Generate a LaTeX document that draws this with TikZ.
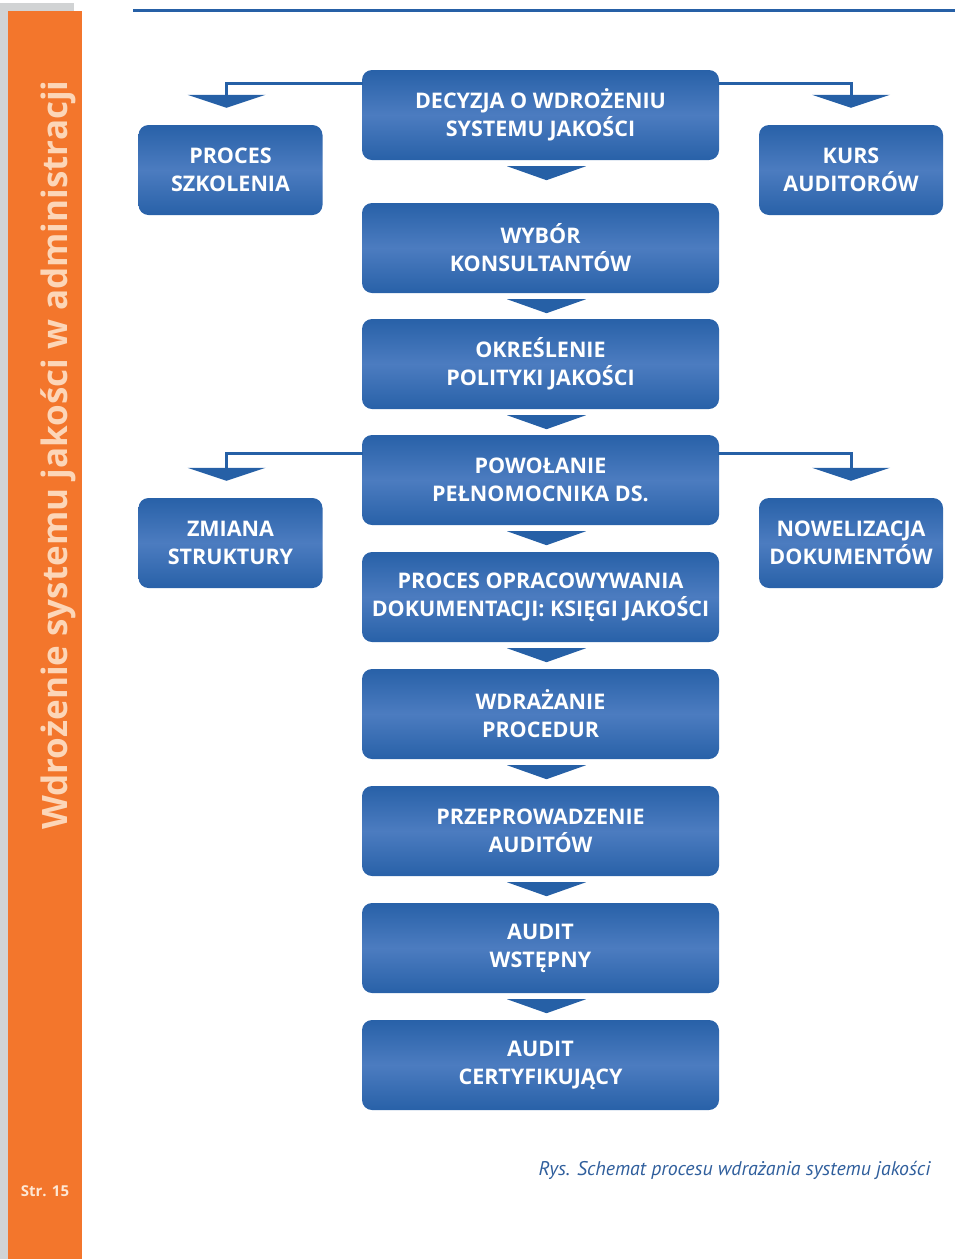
\documentclass[tikz,border=0pt]{standalone}
\usepackage{fontspec}
\setmainfont{PT Sans}
\newfontfamily\boxfont{Open Sans}
\usetikzlibrary{arrows.meta, positioning, calc}
\definecolor{BoxBlue}{RGB}{40, 97, 168}
\definecolor{BoxLight}{RGB}{76, 124, 192}
\definecolor{LineBlue}{RGB}{38, 96, 166}
\definecolor{SideOrange}{RGB}{243, 118, 44}
\definecolor{SideGray}{RGB}{209, 211, 212}
\definecolor{Peach}{RGB}{252, 214, 184}
\definecolor{CaptionBlue}{RGB}{47, 94, 156}

\begin{document}
\begin{tikzpicture}[x=1pt, y=-1pt,
    stepbox/.style={rounded corners=10pt, top color=BoxBlue, bottom color=BoxBlue,
        middle color=BoxLight, text=white, align=center, inner sep=0pt,
        minimum width=357pt, minimum height=90pt,
        font=\boxfont\bfseries\fontsize{21.5}{28}\selectfont},
    sidebox/.style={stepbox, minimum width=184pt},
    link/.style={LineBlue, line width=3pt},
    tri/.style={fill=LineBlue}]
        \useasboundingbox (0,0) rectangle (960,1259);
        % Sidebar
        \fill [SideGray] (0,3) rectangle (74,1259);
        \fill [SideOrange] (8,11) rectangle (82,1259);
        \node [rotate=90, anchor=base, text=Peach, font=\boxfont\bfseries\fontsize{35}{40}\selectfont]
            (title) at (67,455) {Wdrożenie systemu jakości w administracji};
        \node [text=Peach!60!white, font=\boxfont\bfseries\fontsize{15}{18}\selectfont]
            (page) at (45,1191) {Str. 15};
        \draw [LineBlue, line width=3pt] (133,10) -- (955,10);

        % Main steps
        \node [stepbox] (b1) at (540.5,115) {DECYZJA O WDROŻENIU\\SYSTEMU JAKOŚCI};
        \node [stepbox] (b2) at (540.5,248) {WYBÓR\\KONSULTANTÓW};
        \node [stepbox] (b3) at (540.5,364) {OKREŚLENIE\\POLITYKI JAKOŚCI};
        \node [stepbox] (b4) at (540.5,480) {POWOŁANIE\\PEŁNOMOCNIKA DS.};
        \node [stepbox] (b5) at (540.5,597) {PROCES OPRACOWYWANIA\\DOKUMENTACJI: KSIĘGI JAKOŚCI};
        \node [stepbox] (b6) at (540.5,714) {WDRAŻANIE\\PROCEDUR};
        \node [stepbox] (b7) at (540.5,831) {PRZEPROWADZENIE\\AUDITÓW};
        \node [stepbox] (b8) at (540.5,948) {AUDIT\\WSTĘPNY};
        \node [stepbox] (b9) at (540.5,1065) {AUDIT\\CERTYFIKUJĄCY};

        % Side steps
        \node [sidebox] (s1) at (230.5,170) {PROCES\\SZKOLENIA};
        \node [sidebox] (s2) at (851,170) {KURS\\AUDITORÓW};
        \node [sidebox] (s3) at (230.5,543) {ZMIANA\\STRUKTURY};
        \node [sidebox] (s4) at (851,543) {NOWELIZACJA\\DOKUMENTÓW};

        % Arrows between main steps
        \foreach \a/\b in {b1/b2, b2/b3, b3/b4, b4/b5, b5/b6, b6/b7, b7/b8, b8/b9}
            \fill [tri] ($(\a.south)+(-33.5,6)$) -- ++(79,0) -- ++(-39.5,14) -- cycle;

        % Branches to side steps
        \coordinate (t1) at ($(s1.north)+(-4,-30)$);
        \coordinate (t2) at ($(s2.north)+(0,-30)$);
        \coordinate (t3) at ($(s3.north)+(-4,-30)$);
        \coordinate (t4) at ($(s4.north)+(0,-30)$);
        \draw [link] ($(b1.north west)+(1,14)$) -| (t1);
        \draw [link] ($(b1.north east)+(-1,14)$) -| (t2);
        \draw [link] ($(b4.north west)+(1,19)$) -| (t3);
        \draw [link] ($(b4.north east)+(-1,19)$) -| (t4);
        \foreach \t in {t1, t2, t3, t4}
            \fill [tri] ($(\t)+(-39,0)$) -- ++(78,0) -- ++(-39,13) -- cycle;

        \node [anchor=base west, text=CaptionBlue, font=\itshape\fontsize{19.8}{24}\selectfont]
            (caption) at (535,1175) {Rys. Schemat procesu wdrażania systemu jakości};
    \end{tikzpicture}
\end{document}
